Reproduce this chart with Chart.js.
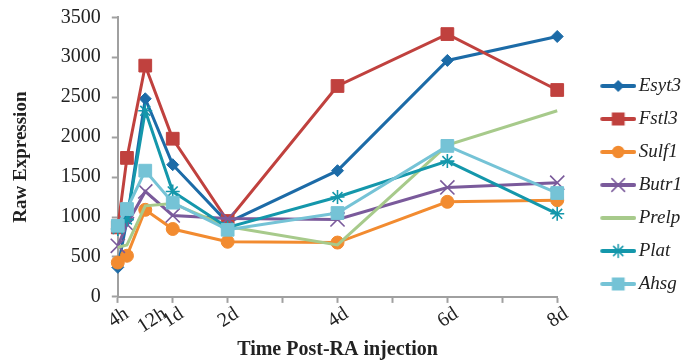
<!DOCTYPE html>
<html>
<head>
<meta charset="utf-8">
<script src="https://cdn.jsdelivr.net/npm/chart.js@4.4.1/dist/chart.umd.min.js"></script>
<style>
  html, body { margin: 0; padding: 0; background: #fff; }
  #wrap { width: 696px; height: 362px; }
</style>
</head>
<body>
<div id="wrap"><canvas id="chart"></canvas></div>
<script>
// ─── Data ────────────────────────────────────────────
// sampling times in days: 0, 4h, 12h, 1d, 2d, 4d, 6d, 8d
const timeDays = [0, 1 / 6, 0.5, 1, 2, 4, 6, 8];
const tickLabels = ["4h", "12h", "1d", "2d", "4d", "6d", "8d"];
const tickLabelAt = [0, 0.69, 1, 2, 4, 6, 8];
const tickMarks = [0, 1, 2, 3, 4, 5, 6, 7, 8];

const esyt3 = [370, 960, 2480, 1655, 930, 1580, 2960, 3260];
const fstl3 = [870, 1740, 2895, 1980, 950, 2640, 3290, 2590];
const sulf1 = [430, 515, 1090, 850, 690, 680, 1190, 1210];
const butr1 = [640, 910, 1320, 1020, 980, 970, 1370, 1430];
const prelp = [620, 650, 1140, 1170, 880, 650, 1900, 2330];
const plat  = [850, 970, 2330, 1320, 870, 1250, 1700, 1040];
const ahsg  = [890, 1100, 1580, 1180, 840, 1050, 1890, 1300];

const SERIF = "'Liberation Serif', 'DejaVu Serif', serif";
const AXIS = "#a0a0a0";

// ─── Series styling ──────────────────────────────────
const series = [
  { name: "Esyt3", data: esyt3, color: "#1c6ba7", style: "rectRot",  r: 6,   lr: 5 },
  { name: "Fstl3", data: fstl3, color: "#c0413e", style: "rect",     r: 9,   lr: 8 },
  { name: "Sulf1", data: sulf1, color: "#f28b30", style: "circle",   r: 6.5, lr: 5.5 },
  { name: "Butr1", data: butr1, color: "#7a5a9b", style: "crossRot", r: 10,  lr: 9 },
  { name: "Prelp", data: prelp, color: "#a7ca8b", style: false,      r: 0,   lr: 0 },
  { name: "Plat",  data: plat,  color: "#1497ab", style: "star",     r: 7,   lr: 6.5 },
  { name: "Ahsg",  data: ahsg,  color: "#75c3d6", style: "rect",     r: 9,   lr: 8 },
];

// legend icon: line with the marker in the middle, drawn in the right half
function legendIcon(s) {
  const c = document.createElement("canvas");
  c.width = 72; c.height = 20;
  const ctx = c.getContext("2d");
  ctx.strokeStyle = s.color;
  ctx.fillStyle = s.color;
  ctx.lineWidth = 4;
  ctx.lineCap = "round";
  ctx.beginPath();
  ctx.moveTo(38, 10);
  ctx.lineTo(70, 10);
  ctx.stroke();
  if (s.style) {
    ctx.lineWidth = 1.5;
    Chart.helpers.drawPoint(ctx, { pointStyle: s.style, radius: s.lr, rotation: 0, borderWidth: 1.5 }, 54, 10);
  }
  return c;
}

const datasets = series.map((s, i) => ({
  label: s.name,
  data: s.data.map((v, j) => ({ x: timeDays[j], y: v })),
  borderColor: s.color,
  backgroundColor: s.color,
  borderWidth: 3,
  pointStyle: s.style || "circle",
  pointRadius: s.r,
  pointHoverRadius: s.r,
  pointBorderWidth: s.style === "crossRot" || s.style === "star" ? 1.6 : 1,
  pointBackgroundColor: s.color,
  pointBorderColor: s.color,
  tension: 0,
  clip: false,
  order: series.length - i,   // later series on top, like the original
  icon: legendIcon(s),
}));

// ─── Chart ───────────────────────────────────────────
new Chart(document.getElementById("chart"), {
  type: "line",
  data: { datasets },
  options: {
    responsive: true,
    maintainAspectRatio: false,
    animation: false,
    layout: { padding: { top: -6, right: 4, bottom: 0, left: 0 } },
    plugins: {
      tooltip: { enabled: false },
      legend: {
        position: "right",
        // blank title only nudges the entries down a little
        title: { display: true, text: " ", font: { size: 10, lineHeight: 1.2 }, padding: { top: 1, bottom: 1 } },
        labels: {
          usePointStyle: true,
          pointStyleWidth: 58,
          boxHeight: 19,
          padding: 14,
          color: "#222",
          font: { family: SERIF, size: 19, style: "italic" },
          sort: (a, b) => a.datasetIndex - b.datasetIndex,
          generateLabels: chart => {
            const items = Chart.defaults.plugins.legend.labels.generateLabels(chart);
            items.forEach(it => { it.pointStyle = chart.data.datasets[it.datasetIndex].icon; });
            return items;
          },
        },
      },
    },
    scales: {
      x: {
        type: "linear",
        min: 0,
        max: 8,
        afterBuildTicks: axis => {
          const vals = [...new Set([...tickMarks, ...tickLabelAt])].sort((a, b) => a - b);
          axis.ticks = vals.map(v => ({ value: v }));
        },
        ticks: {
          autoSkip: false,
          minRotation: 33,
          maxRotation: 33,
          padding: 1,
          labelOffset: 9,
          color: "#222",
          font: { family: SERIF, size: 20, lineHeight: 1 },
          callback: v => {
            const k = tickLabelAt.indexOf(v);
            return k >= 0 ? tickLabels[k] : "";
          },
        },
        grid: {
          drawOnChartArea: false,
          drawTicks: true,
          tickLength: 6,
          tickWidth: 2,
          tickColor: ctx => (ctx.tick && tickMarks.includes(ctx.tick.value) ? AXIS : "rgba(0,0,0,0)"),
        },
        border: { color: AXIS, width: 2 },
        title: {
          display: true,
          text: "Time Post-RA injection",
          color: "#222",
          font: { family: SERIF, size: 20, weight: "bold" },
          padding: { top: 0, bottom: 0 },
        },
      },
      y: {
        min: 0,
        max: 3500,
        ticks: {
          stepSize: 500,
          padding: 11,
          color: "#222",
          font: { family: SERIF, size: 20, lineHeight: 0.63 },
          callback: v => String(v),
        },
        grid: {
          drawOnChartArea: false,
          drawTicks: true,
          tickLength: 6,
          tickWidth: 2,
          tickColor: AXIS,
        },
        border: { color: AXIS, width: 2 },
        title: {
          display: true,
          text: "Raw Expression",
          color: "#222",
          font: { family: SERIF, size: 19, weight: "bold" },
          padding: { top: 10, bottom: 17 },
        },
      },
    },
  },
});
</script>
</body>
</html>
